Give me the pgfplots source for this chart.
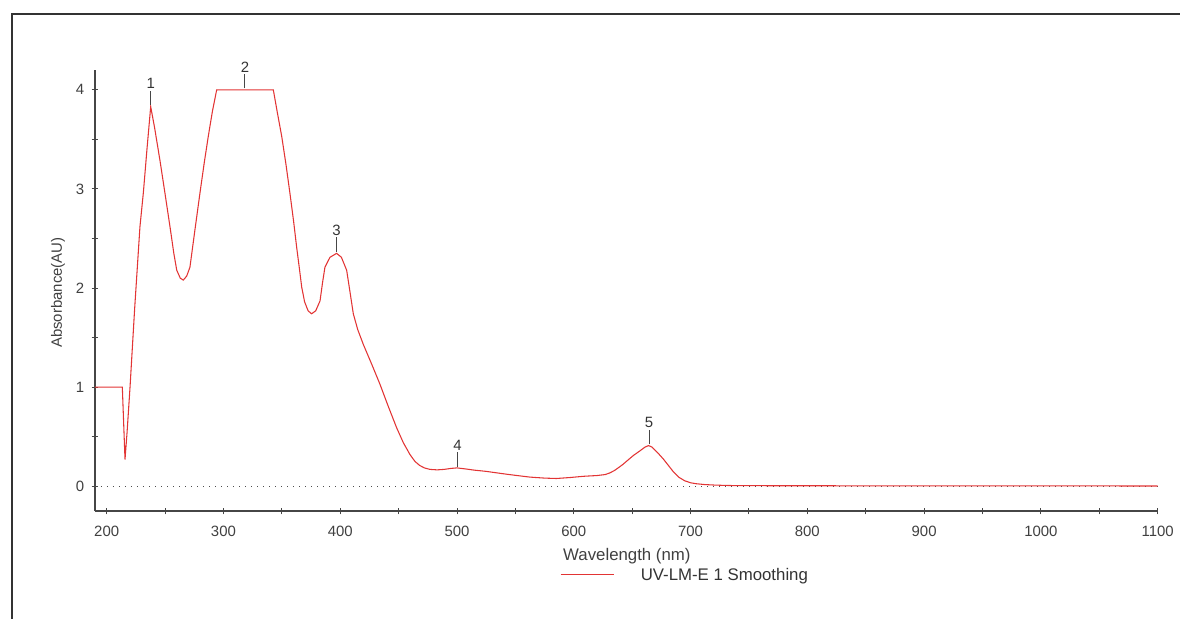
\documentclass[border=0pt]{standalone}
\usepackage{fontspec}
\setmainfont{Liberation Sans}
\usepackage{pgfplots}
\pgfplotsset{compat=1.18}

\definecolor{specred}{RGB}{226,52,52}
\definecolor{axgray}{RGB}{70,70,70}
\newcommand{\ff}{\fontsize{11.2pt}{13pt}\selectfont}
\newcommand{\fl}{\fontsize{12.6pt}{14pt}\selectfont}

\begin{document}
\begin{tikzpicture}
% page = 1180 x 618 px at 0.75pt/px, axis box lower-left at px (95,511)
\path[use as bounding box] (-71.25pt,-80.25pt) rectangle (813.75pt,383.25pt);
\draw[line width=1.6pt, black!80] (-62.25pt,-90pt) -- (-62.25pt,372.75pt) -- (830pt,372.75pt);

\begin{axis}[
    at={(0,0)}, anchor=south west,
    scale only axis,
    width=797pt, height=330.75pt,
    xmin=190, xmax=1100,
    ymin=-0.25, ymax=4.2,
    axis lines=left,
    axis line style={-, axgray, line width=0.8pt},
    xtick={200,300,...,1100},
    ytick={0,1,2,3,4},
    minor x tick num=1,
    minor y tick num=1,
    tick align=center,
    major tick length=5pt,
    minor tick length=5pt,
    tick style={axgray, line width=0.7pt},
    /pgf/number format/assume math mode=true,
    /pgf/number format/1000 sep={},
    tick label style={font=\ff, text=black!75},
    xticklabel style={yshift=-5pt},
    yticklabel style={xshift=-2pt},
    xlabel={Wavelength (nm)},
    ylabel={Absorbance(AU)},
    xlabel style={font=\fl, text=black!75, at={(axis description cs:0.5005,-0.103)}, anchor=center},
    ylabel style={font=\ff, text=black!75, at={(axis description cs:-0.0348,0.495)}, anchor=center},
    legend style={draw=none, fill=none, font=\fl, text=black!80,
        at={(axis description cs:0.4374,-0.145)}, anchor=west,
        inner sep=0pt, column sep=20pt, nodes={inner sep=0pt}},
    legend image code/.code={\draw[#1] (0pt,0pt) -- (39.75pt,0pt);},
    clip=false,
]
% zero baseline
\addplot[black!70, line width=1pt, dash pattern=on 1.1pt off 3.4pt, forget plot]
    coordinates {(190,0) (1100,0)};

\addplot[specred, line width=0.8pt] coordinates {
(190,1.0) (213.4,1.0) (215.7,0.27) (217.5,0.55) (220,1.0) (224,1.8)
(228.5,2.62) (231.4,2.96) (234.5,3.4) (237.7,3.83) (241,3.62) (245.6,3.29)
(250,2.95) (254.2,2.62) (257.5,2.35) (260,2.18) (263,2.1) (265.6,2.08)
(268.5,2.12) (271.3,2.21) (275.5,2.58) (279.9,2.96) (283.5,3.26) (287,3.53)
(290.5,3.78) (294.2,4.0) (342.7,4.0) (346,3.78) (349.9,3.53) (353.5,3.25)
(357,2.95) (360,2.68) (362.7,2.41) (365,2.2) (367,2.01) (369.5,1.86)
(372.5,1.77) (375.5,1.74) (379,1.77) (382.7,1.87) (384.8,2.05) (386.9,2.21)
(391.2,2.31) (396.9,2.35) (401,2.31) (405.5,2.18) (408.5,1.95) (411.2,1.74)
(415,1.58) (419.8,1.43) (427,1.23) (434,1.03) (441,0.81) (448.3,0.59)
(454,0.44) (459.7,0.32) (464,0.25) (468,0.21) (472,0.185) (476.8,0.17)
(483,0.165) (489,0.17) (495,0.18) (500,0.185) (507,0.175) (515,0.162)
(525,0.15) (534,0.135) (542,0.122) (550,0.11) (562.5,0.092) (575,0.082)
(585,0.078) (597,0.088) (608,0.1) (620,0.108) (627,0.118) (631,0.135)
(635,0.16) (638,0.185) (641.5,0.215) (645,0.25) (651,0.31) (657,0.36)
(661,0.395) (664,0.41) (667,0.395) (670,0.36) (674,0.31) (677,0.27)
(680,0.225) (685,0.15) (690,0.09) (695,0.055) (700,0.035) (705,0.025)
(712,0.017) (720,0.012) (730,0.008) (740,0.006) (770,0.005) (800,0.005)
(850,0.004) (900,0.003) (950,0.004) (1000,0.004) (1050,0.003) (1100,0.002)
};
\addlegendentry{UV-LM-E 1 Smoothing}

% peak markers
\draw[axgray, line width=0.7pt] ([yshift=1.5pt]axis cs:237.7,3.83) -- ([yshift=12pt]axis cs:237.7,3.83)
    node[above, inner sep=1pt, font=\ff, text=black!80] {1};
\draw[axgray, line width=0.7pt] ([yshift=1pt]axis cs:318.4,4.0) -- ([yshift=12pt]axis cs:318.4,4.0)
    node[above, inner sep=1pt, font=\ff, text=black!80] {2};
\draw[axgray, line width=0.7pt] ([yshift=1pt]axis cs:396.9,2.35) -- ([yshift=12pt]axis cs:396.9,2.35)
    node[above, inner sep=1pt, font=\ff, text=black!80] {3};
\draw[axgray, line width=0.7pt] ([yshift=1pt]axis cs:500.5,0.185) -- ([yshift=12pt]axis cs:500.5,0.185)
    node[above, inner sep=1pt, font=\ff, text=black!80] {4};
\draw[axgray, line width=0.7pt] ([yshift=1pt]axis cs:664.4,0.41) -- ([yshift=12pt]axis cs:664.4,0.41)
    node[above, inner sep=1pt, font=\ff, text=black!80] {5};
\end{axis}
\end{tikzpicture}
\end{document}
